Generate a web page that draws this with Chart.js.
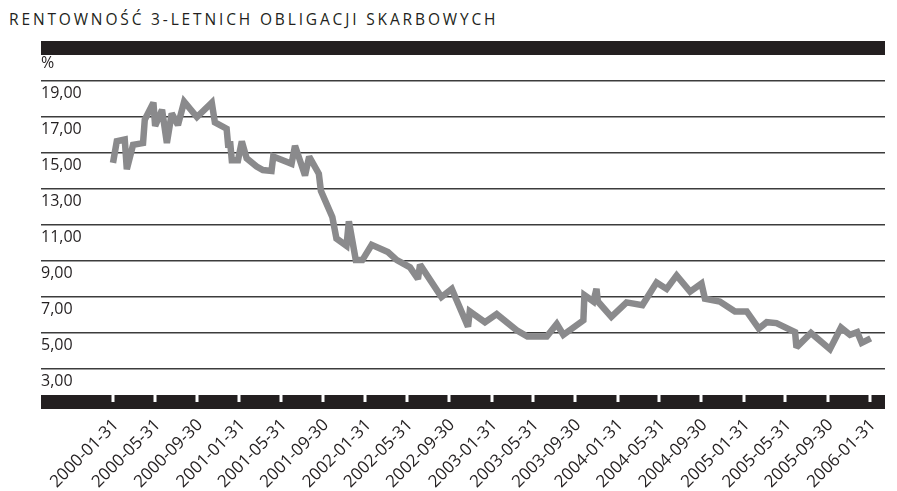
<!DOCTYPE html>
<html>
<head>
<meta charset="utf-8">
<script src="https://cdn.jsdelivr.net/npm/chart.js@4/dist/chart.umd.min.js"></script>
<style>
  html, body { margin: 0; padding: 0; background: #ffffff; }
  #wrap { position: relative; width: 897px; height: 491px; overflow: hidden; }
  #title { position: absolute; left: 9px; top: 8px; font-family: 'Open Sans', sans-serif; font-size: 15.5px;
           letter-spacing: 2.85px; color: #231f20; white-space: nowrap; }
  canvas { position: absolute; left: 0; top: 0; }
</style>
</head>
<body>
<div id="wrap">
  <div id="title">RENTOWNOŚĆ 3-LETNICH OBLIGACJI SKARBOWYCH</div>
  <canvas id="chart" width="897" height="491"></canvas>
</div>
<script>
// ---- data ----
const dates = [
  '2000-01-31','2000-02-11','2000-03-05','2000-03-11','2000-03-29','2000-04-27','2000-05-02','2000-05-27',
  '2000-06-01','2000-06-21','2000-07-05','2000-07-19','2000-08-06','2000-08-24','2000-09-30','2000-11-12',
  '2000-11-21','2000-12-25','2000-12-30','2001-01-04','2001-01-09','2001-01-27','2001-02-07','2001-02-21',
  '2001-03-22','2001-04-09','2001-05-04','2001-05-09','2001-07-01','2001-07-11','2001-08-09','2001-08-21',
  '2001-09-18','2001-09-24','2001-10-27','2001-11-08','2001-12-07','2001-12-14','2002-01-03','2002-01-22',
  '2002-02-18','2002-04-06','2002-05-02','2002-06-09','2002-07-02','2002-07-08','2002-09-08','2002-10-08',
  '2002-11-24','2002-11-29','2003-01-12','2003-02-15','2003-04-14','2003-05-15','2003-07-10','2003-08-08',
  '2003-08-27','2003-10-24','2003-10-27','2003-11-22','2003-12-01','2003-12-05','2004-01-13','2004-02-26',
  '2004-04-12','2004-05-23','2004-06-21','2004-07-20','2004-08-28','2004-09-30','2004-10-10','2004-11-22',
  '2005-01-05','2005-02-08','2005-03-15','2005-04-07','2005-05-05','2005-06-28','2005-07-02','2005-08-13',
  '2005-10-07','2005-11-08','2005-12-04','2005-12-25','2006-01-07','2006-02-02'
];
const yields = [
  14.45, 15.65, 15.75, 14.10, 15.45, 15.55, 16.85, 17.80,
  16.50, 17.40, 15.55, 17.20, 16.55, 17.85, 17.00, 17.80,
  16.70, 16.35, 15.30, 15.65, 14.60, 14.60, 15.65, 14.70,
  14.25, 14.05, 14.00, 14.80, 14.40, 15.40, 13.75, 14.80,
  13.85, 12.90, 11.45, 10.25, 9.85, 11.20, 9.05, 9.05,
  9.90, 9.50, 9.05, 8.65, 8.00, 8.80, 7.00, 7.45,
  5.35, 6.20, 5.60, 6.05, 5.15, 4.80, 4.80, 5.50,
  4.90, 5.70, 7.10, 6.75, 7.45, 6.75, 5.90, 6.70,
  6.55, 7.80, 7.45, 8.20, 7.30, 7.75, 6.90, 6.75,
  6.20, 6.20, 5.25, 5.60, 5.55, 5.05, 4.20, 5.00,
  4.10, 5.30, 4.90, 5.05, 4.45, 4.70
];
const xTickLabels = [
  '2000-01-31','2000-05-31','2000-09-30','2001-01-31','2001-05-31','2001-09-30','2002-01-31',
  '2002-05-31','2002-09-30','2003-01-31','2003-05-31','2003-09-30','2004-01-31','2004-05-31',
  '2004-09-30','2005-01-31','2005-05-31','2005-09-30','2006-01-31'
];
const yTickValues = [3, 5, 7, 9, 11, 13, 15, 17, 19];
const unitLabel = '%';

// ---- helpers ----
const ORIGIN = Date.parse(xTickLabels[0] + 'T00:00:00Z');
const dayOf = s => (Date.parse(s + 'T00:00:00Z') - ORIGIN) / 86400000;
const points = dates.map((d, i) => ({ x: dayOf(d), y: yields[i] }));
const tickDays = xTickLabels.map(dayOf);
const fmt = v => v.toFixed(2).replace('.', ',');

const INK = '#231f20';
const FONT = "'Open Sans', sans-serif";

const framePlugin = {
  id: 'frame',
  beforeDatasetsDraw(chart) {
    const { ctx, chartArea: a, scales } = chart;
    ctx.save();
    ctx.fillStyle = INK;
    ctx.fillRect(a.left, a.top, a.right - a.left, 14);
    ctx.fillRect(a.left, a.bottom - 14, a.right - a.left, 14);
    ctx.fillStyle = '#ffffff';
    tickDays.forEach(d => {
      const px = scales.x.getPixelForValue(d);
      ctx.fillRect(Math.round(px) - 1.5, a.bottom - 14, 3, 7);
    });
    ctx.fillStyle = INK;
    ctx.font = '16px ' + FONT;
    ctx.textAlign = 'left';
    ctx.textBaseline = 'middle';
    ctx.fillText(unitLabel, a.left, scales.y.getPixelForValue(yTickValues[yTickValues.length - 1]) - 18);
    ctx.restore();
  },
  beforeDatasetDraw(chart) {
    chart.ctx.save();
    chart.ctx.miterLimit = 2.2;
  },
  afterDatasetDraw(chart) {
    chart.ctx.restore();
  }
};

new Chart(document.getElementById('chart'), {
  type: 'line',
  data: {
    datasets: [{
      data: points,
      borderColor: '#8a8a8c',
      borderWidth: 6.5,
      borderJoinStyle: 'miter',
      borderCapStyle: 'butt',
      pointRadius: 0,
      tension: 0,
      fill: false
    }]
  },
  options: {
    responsive: false,
    animation: false,
    events: [],
    layout: { padding: { left: 41, right: 12, top: 41, bottom: 0 } },
    plugins: { legend: { display: false }, tooltip: { enabled: false }, title: { display: false } },
    scales: {
      x: {
        type: 'linear',
        min: -208.5,
        max: 2235.4,
        afterBuildTicks: s => { s.ticks = tickDays.map(v => ({ value: v })); },
        afterFit: s => { s.height = 82; },
        grid: { display: false, drawTicks: false },
        border: { display: false },
        ticks: {
          autoSkip: false,
          maxRotation: 45,
          minRotation: 45,
          padding: 6,
          labelOffset: 3,
          color: INK,
          font: { family: FONT, size: 17 },
          callback: (v, i) => xTickLabels[i]
        }
      },
      y: {
        min: 0.778,
        max: 21.222,
        afterBuildTicks: s => { s.ticks = yTickValues.map(v => ({ value: v })); },
        afterFit: s => { s.width = 0; },
        grid: { color: '#3c3c3c', lineWidth: 1.5, drawTicks: false },
        border: { display: false },
        ticks: {
          mirror: true,
          padding: 0,
          labelOffset: 12,
          color: INK,
          font: { family: FONT, size: 16 },
          callback: v => fmt(v)
        }
      }
    }
  },
  plugins: [framePlugin]
});
</script>
</body>
</html>
